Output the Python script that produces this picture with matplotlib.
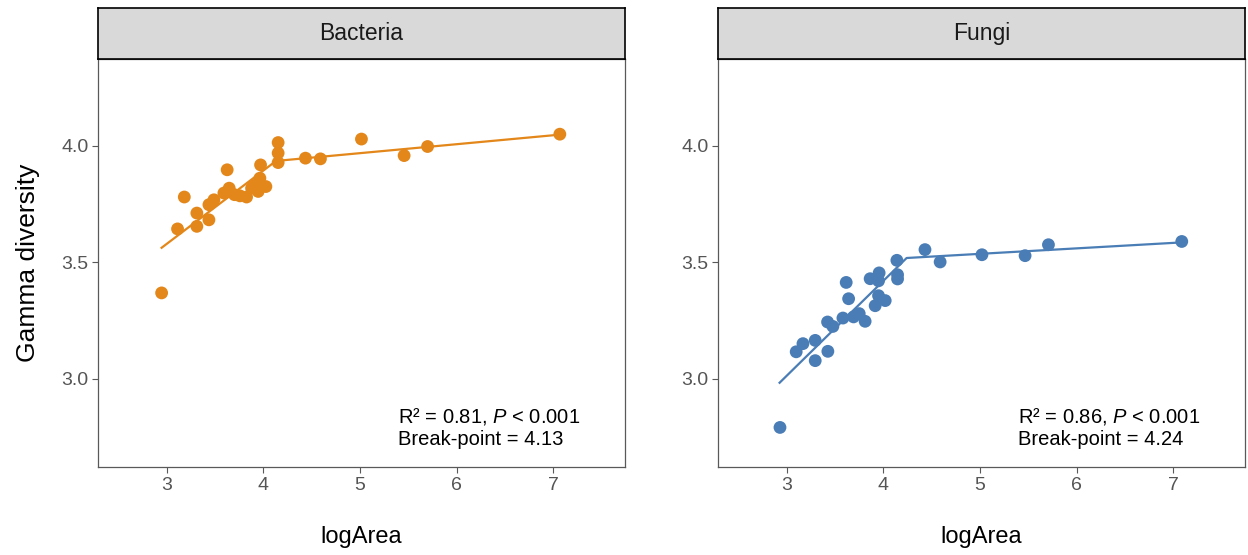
import matplotlib
matplotlib.use("Agg")
import matplotlib.pyplot as plt

plt.rcParams["font.family"] = ["Liberation Sans", "DejaVu Sans"]
plt.rcParams["mathtext.fontset"] = "custom"
plt.rcParams["mathtext.it"] = "Liberation Sans:italic"
plt.rcParams["mathtext.rm"] = "Liberation Sans"

# values
bac_x = [2.945, 3.18, 3.11, 3.31, 3.31, 3.435, 3.435, 3.487, 3.624, 3.59,
         3.645, 3.70, 3.756, 3.825, 3.877, 3.945, 3.963, 3.97, 4.025, 3.91,
         4.152, 4.152, 4.152, 4.435, 4.59, 5.015, 5.457, 5.70, 7.07]
bac_y = [3.368, 3.78, 3.643, 3.711, 3.654, 3.682, 3.747, 3.768, 3.897, 3.797,
         3.818, 3.79, 3.785, 3.78, 3.818, 3.804, 3.861, 3.918, 3.825, 3.83,
         4.014, 3.969, 3.928, 3.947, 3.944, 4.029, 3.958, 3.997, 4.05]
bac_fit_x = [2.945, 4.13, 7.07]
bac_fit_y = [3.562, 3.935, 4.048]

fun_x = [2.928, 3.096, 3.166, 3.293, 3.293, 3.424, 3.421, 3.476, 3.58, 3.614,
         3.639, 3.69, 3.749, 3.81, 3.862, 3.955, 3.949, 3.949, 4.018, 3.914,
         4.139, 4.146, 4.146, 4.43, 4.587, 5.02, 5.467, 5.709, 7.09]
fun_y = [2.79, 3.115, 3.150, 3.164, 3.077, 3.117, 3.243, 3.224, 3.26, 3.413,
         3.343, 3.265, 3.279, 3.246, 3.429, 3.454, 3.42, 3.356, 3.335, 3.313,
         3.508, 3.446, 3.428, 3.554, 3.501, 3.532, 3.528, 3.575, 3.589]
fun_fit_x = [2.924, 4.24, 7.09]
fun_fit_y = [2.982, 3.518, 3.585]

panels = [
    ("Bacteria", bac_x, bac_y, bac_fit_x, bac_fit_y, "#E3871A", "0.81", "4.13"),
    ("Fungi", fun_x, fun_y, fun_fit_x, fun_fit_y, "#4A7DB5", "0.86", "4.24"),
]

W, H = 1248, 555
fig = plt.figure(figsize=(W / 100, H / 100), dpi=100)
lefts = [98, 718]
width = 527
bottom, top = 467, 59
strip_top = 8
GREYTXT = "#555555"
BORDER = "#595959"

for left, (name, xs, ys, fx, fy, col, r2, bp) in zip(lefts, panels):
    ax = fig.add_axes([left / W, (H - bottom) / H, width / W, (bottom - top) / H])
    ax.scatter(xs, ys, s=85, color=col, edgecolors="none", zorder=3)
    ax.plot(fx, fy, color=col, linewidth=1.6, zorder=2)
    ax.set_xlim(2.286, 7.745)
    ax.set_ylim(2.62, 4.373)
    ax.set_xticks([3, 4, 5, 6, 7])
    ax.set_yticks([3.0, 3.5, 4.0])
    ax.set_yticklabels(["3.0", "3.5", "4.0"])
    ax.tick_params(colors=GREYTXT, labelsize=14, length=4, width=0.8,
                   color=BORDER, pad=3)
    for sp in ax.spines.values():
        sp.set_color(BORDER)
        sp.set_linewidth(0.9)
    ax.text(5.39, 2.835, f"R² = {r2}, $\\mathit{{P}}$ < 0.001", fontsize=14.5,
            va="center", ha="left", color="black")
    ax.text(5.39, 2.738, f"Break-point = {bp}", fontsize=14.5,
            va="center", ha="left", color="black")
    # facet strip
    sax = fig.add_axes([left / W, (H - top) / H, width / W, (top - strip_top) / H])
    sax.set_xticks([])
    sax.set_yticks([])
    sax.set_facecolor("#D9D9D9")
    for sp in sax.spines.values():
        sp.set_color("black")
        sp.set_linewidth(1.2)
    sax.text(0.5, 0.5, name, transform=sax.transAxes, ha="center", va="center",
             fontsize=16.5, color="#1A1A1A")
    fig.text((left + width / 2) / W, 1 - 537 / H, "logArea", ha="center",
             va="center", fontsize=17)

fig.text(28 / W, 1 - 263 / H, "Gamma diversity", rotation=90, ha="center",
         va="center", fontsize=19)

fig.savefig("out.png", dpi=100, facecolor="white")
